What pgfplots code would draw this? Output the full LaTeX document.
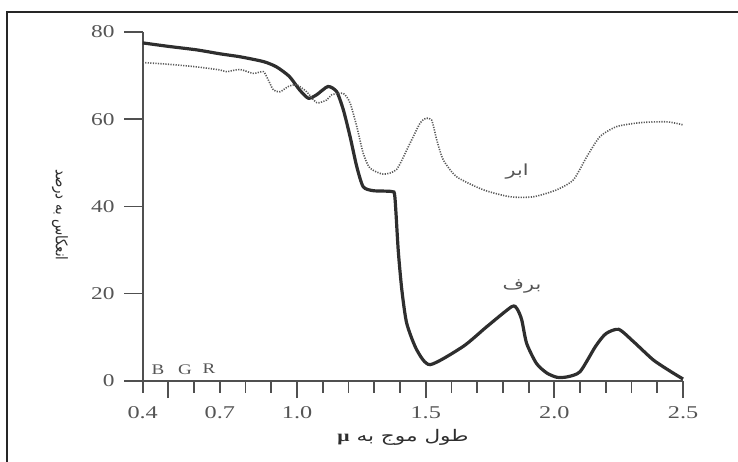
\documentclass[border=0pt]{standalone}
\usepackage{pgfplots}
\pgfplotsset{compat=1.18}
\usepackage{fontspec}
\setmainfont{Liberation Serif}
\newfontfamily\arabicfont[Script=Arabic]{DejaVu Sans}
\newfontfamily\greekfont{Liberation Serif}
\TeXXeTstate=1
\definecolor{axgray}{HTML}{505050}
\definecolor{txtgray}{HTML}{555555}
\definecolor{snowc}{HTML}{2E2E2E}
\definecolor{cloudc}{HTML}{5A5A5A}
\begin{document}
\begin{tikzpicture}
\begin{axis}[
  scale only axis,
  width=405.5pt, height=261.75pt,
  xmin=0.4, xmax=2.5, ymin=0, ymax=80,
  axis x line=bottom, axis y line=left,
  axis line style={-, axgray, line width=1.4pt},
  clip=false,
  xtick={0.4,0.5,0.6,0.7,0.8,0.9,1.0,1.1,1.2,1.3,1.4,1.5,1.6,1.7,1.8,1.9,2.0,2.1,2.2,2.3,2.4,2.5},
  xticklabels={0.4,,,0.7,,,1.0,,,,,1.5,,,,,2.0,,,,,2.5},
  extra x ticks={0.5,1.0,1.5,2.0,2.5},
  extra x tick labels={},
  extra x tick style={major tick length=13pt, tick style={line width=1.6pt, axgray}},
  ytick=\empty,
  extra y ticks={0,20,40,60,80},
  extra y tick style={major tick length=14pt, tick style={line width=1.1pt, axgray},
    tick label style={font=\fontsize{13.5}{15}\selectfont, text=txtgray, xscale=1.3, xshift=-2pt}},
  tick align=outside,
  major tick length=9pt,
  tick style={line width=1.3pt, axgray},
  x tick label style={font=\fontsize{13.5}{15}\selectfont, text=txtgray, xscale=1.35, yshift=-7pt},
  /pgf/number format/assume math mode=true,
]
\addplot[snowc, line width=2.4pt, smooth, tension=0.4] coordinates {
(0.40,77.5)(0.50,76.7)(0.61,75.9)(0.70,75.0)(0.78,74.3)(0.87,73.2)(0.92,72.0)
(0.97,69.8)(1.01,66.7)(1.044,64.8)(1.076,65.6)(1.12,67.5)(1.154,66.3)(1.18,62.1)
(1.206,56.0)(1.232,49.1)(1.257,44.5)(1.296,43.6)(1.368,43.4)(1.38,42.2)(1.393,30)
(1.407,20.9)(1.426,13.2)(1.465,7.1)(1.517,3.7)(1.646,7.9)(1.737,12.4)(1.834,17.0)
(1.855,16.5)(1.873,14.0)(1.892,8.6)(1.93,4.0)(1.97,1.8)(2.01,0.8)(2.05,0.9)
(2.10,2.1)(2.16,7.9)(2.20,10.8)(2.25,11.8)(2.307,9.0)(2.384,4.8)(2.45,2.2)(2.50,0.4)
};
\addplot[cloudc, line width=1.2pt, dash pattern=on 0.9pt off 1.0pt, smooth, tension=0.4] coordinates {
(0.40,73.0)(0.50,72.6)(0.61,72.0)(0.70,71.3)(0.726,70.9)(0.778,71.4)(0.83,70.5)
(0.869,70.9)(0.888,69.0)(0.908,66.7)(0.934,66.3)(0.966,67.5)(0.998,67.9)(1.037,66.3)
(1.076,63.8)(1.115,64.4)(1.135,65.6)(1.18,65.9)(1.206,63.7)(1.232,58.3)(1.257,52.2)
(1.283,48.8)(1.335,47.4)(1.387,48.5)(1.439,54.5)(1.478,59.1)(1.50,60.2)(1.523,59.8)
(1.543,55.2)(1.568,50.7)(1.62,46.8)(1.724,43.8)(1.828,42.2)(1.918,42.2)(2.009,43.8)
(2.074,46.1)(2.126,51.4)(2.177,56.0)(2.242,58.3)(2.333,59.2)(2.437,59.4)(2.50,58.7)
};
% labels
\node[text=txtgray, xscale=1.35, font=\arabicfont\fontsize{11.5}{13}\selectfont] at (axis cs:1.855,47.9) {\beginR ابر\endR};
\node[text=txtgray, xscale=1.35, font=\arabicfont\fontsize{11.5}{13}\selectfont] at (axis cs:1.874,21.6) {\beginR برف\endR};
\node[text=txtgray, xscale=1.3, font=\fontsize{11}{13}\selectfont] at (axis cs:0.4595,2.6) {B};
\node[text=txtgray, xscale=1.3, font=\fontsize{11}{13}\selectfont] at (axis cs:0.564,2.6) {G};
\node[text=txtgray, xscale=1.3, font=\fontsize{11}{13}\selectfont] at (axis cs:0.658,2.8) {R};
\node[text=snowc, xscale=1.35, font=\arabicfont\fontsize{12}{14}\selectfont] at (axis cs:1.4117,-13.07) {\beginR طول موج به {\greekfont\bfseries μ}\endR};
\node[text=snowc, rotate=-90, yscale=1.2, font=\arabicfont\fontsize{10}{12}\selectfont] at (axis cs:0.0786,38.05) {\beginR انعکاس به درصد\endR};
% frame
\draw[black!85, line width=1.1pt] (axis cs:-0.1274,-18.57) -- (axis cs:-0.1274,84.58) -- (axis cs:2.7136,84.58);
\coordinate (cbl) at (axis cs:-0.1546,-18.57);
\coordinate (ctr) at (axis cs:2.7136,87.34);
\end{axis}
\pgfresetboundingbox
\path (cbl) rectangle (ctr);
\end{tikzpicture}
\end{document}
